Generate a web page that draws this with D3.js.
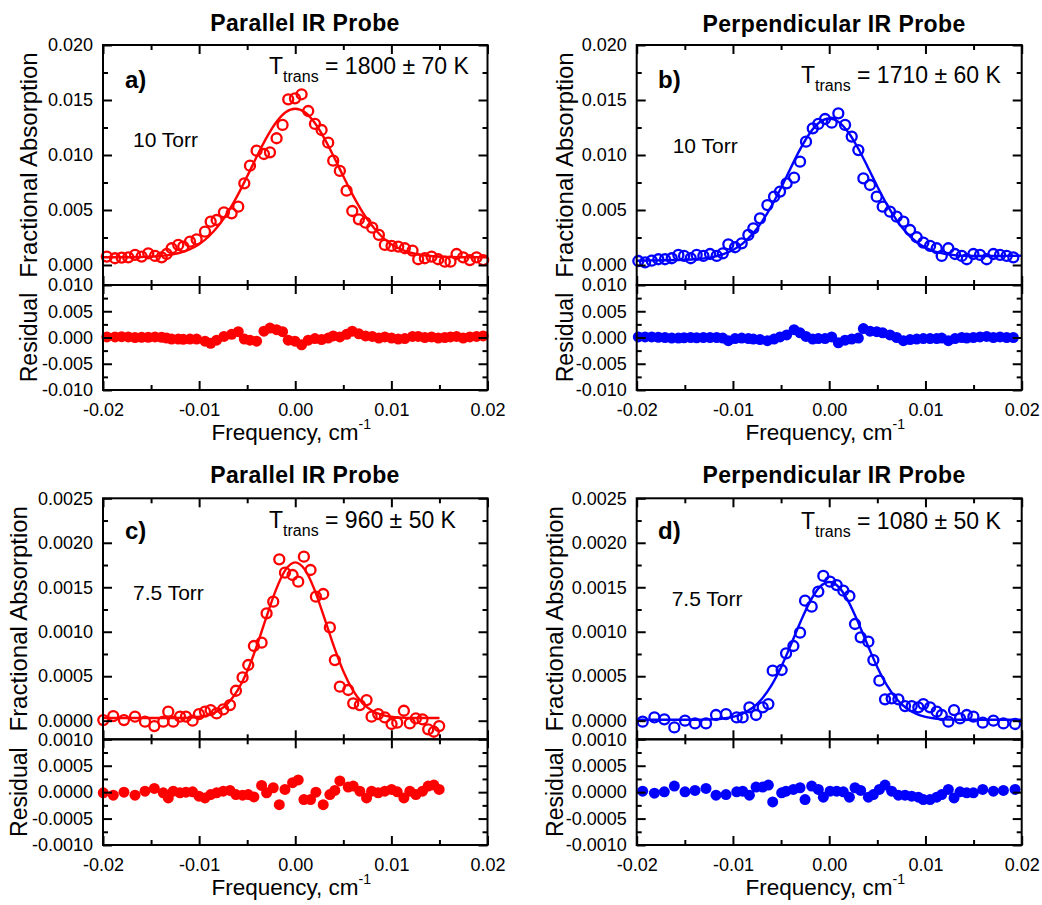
<!DOCTYPE html>
<html>
<head>
<meta charset="utf-8">
<script src="https://cdn.jsdelivr.net/npm/d3@7"></script>
<style>
  body { margin: 0; background: #fff; }
  svg { display: block; }
  text { font-family: "Liberation Sans", Arial, Helvetica, sans-serif; fill: #000; }
</style>
</head>
<body>
<svg id="chart" width="1042" height="905"></svg>
<script>
// ---------- Measured spectra (frequency offset in cm^-1, fractional absorption) ----------
// Panel a: 10 Torr, parallel probe
const freqA = [-0.0196,-0.01875,-0.01806,-0.01737,-0.01667,-0.01598,-0.01529,-0.01459,-0.0139,-0.01338,
  -0.01286,-0.01217,-0.01165,-0.01095,-0.01026,-0.00939,-0.0088,-0.00818,-0.00742,-0.00662,
  -0.00593,-0.0053,-0.00471,-0.00402,-0.00326,-0.00263,-0.00194,-0.00132,-0.00073,-0.00003,
  0.00066,0.00135,0.00205,0.00274,0.00343,0.00395,0.00464,0.00534,0.00593,0.00662,
  0.00731,0.00801,0.0087,0.00932,0.01002,0.01071,0.0114,0.0122,0.01279,0.01348,
  0.01418,0.01487,0.01556,0.01615,0.01678,0.01747,0.01816,0.01886,0.01955];
const absA = [0.00076,0.00061,0.00067,0.00070,0.00091,0.00076,0.00106,0.00082,0.00070,0.00100,
  0.00152,0.00182,0.00167,0.00212,0.00233,0.00303,0.00394,0.00409,0.00479,0.00470,
  0.00530,0.00742,0.00903,0.01039,0.01009,0.01024,0.01152,0.01273,0.01506,0.01515,
  0.01552,0.01400,0.01282,0.01227,0.01112,0.00948,0.00855,0.00676,0.00491,0.00415,
  0.00385,0.00339,0.00273,0.00182,0.00173,0.00167,0.00152,0.00130,0.00052,0.00061,
  0.00076,0.00052,0.00030,0.00030,0.00100,0.00070,0.00045,0.00070,0.00045];
const residA = [0.0001,0.0001,0.00015,0.0001,0.0,0.00005,0.00005,0.0001,0.00005,-0.0001,
  -0.0003,-0.0003,-0.00035,-0.0003,-0.0003,-0.0007,-0.0011,-0.0005,0.0002,0.0006,
  0.0011,-0.0003,-0.0005,-0.0007,0.0012,0.0018,0.0015,0.0011,-0.0005,-0.0007,
  -0.0014,-0.0005,-0.0002,-0.0004,-0.0001,0.0003,0.0001,0.0006,0.0012,0.0007,
  0.0003,0.0002,-0.0001,0.0001,-0.0001,-0.0003,-0.0002,0.0002,0.0002,0.0,
  0.0001,-0.0001,0.0,0.0001,0.0002,-0.0001,0.0001,0.0002,0.0003];

// Panel b: 10 Torr, perpendicular probe
const freqB = [-0.01983,-0.01913,-0.01844,-0.01775,-0.01706,-0.01636,-0.01567,-0.01508,-0.01439,-0.01377,
  -0.01307,-0.01238,-0.01169,-0.01106,-0.01048,-0.00978,-0.00909,-0.0084,-0.00788,-0.00719,
  -0.00642,-0.00573,-0.00511,-0.00442,-0.00365,-0.00303,-0.00241,-0.00171,-0.00113,-0.00043,
  0.00026,0.00095,0.00165,0.00234,0.00303,0.00355,0.00424,0.00494,0.00556,0.00632,
  0.00701,0.00771,0.0084,0.00909,0.00978,0.01048,0.01117,0.01169,0.01238,0.01307,
  0.01377,0.01429,0.01498,0.01567,0.01636,0.01706,0.01775,0.01844,0.01913];
const absB = [0.00036,0.00024,0.00039,0.00052,0.00052,0.00061,0.00091,0.00082,0.00061,0.00091,
  0.00082,0.00100,0.00082,0.00106,0.00188,0.00161,0.00197,0.00273,0.00333,0.00424,
  0.00545,0.00621,0.00667,0.00742,0.00794,0.00939,0.01121,0.01242,0.01282,0.01327,
  0.01294,0.01379,0.01273,0.01167,0.01045,0.00788,0.00727,0.00621,0.00530,0.00485,
  0.00439,0.00394,0.00318,0.00252,0.00203,0.00173,0.00152,0.00082,0.00152,0.00100,
  0.00082,0.00052,0.00100,0.00091,0.00052,0.00100,0.00091,0.00082,0.00070];
const residB = [0.0001,0.0001,0.0001,0.00005,0.0,-0.0001,-0.0001,-0.00005,0.0,-0.00005,
  0.0,0.0,0.0,-0.0001,-0.0006,-0.0002,-0.0001,-0.0002,-0.0003,-0.0004,
  -0.0006,-0.0003,0.0001,0.0005,0.0015,0.0009,0.0002,-0.0003,-0.0002,-0.0002,
  0.0001,-0.0010,-0.0005,-0.0003,-0.0001,0.0017,0.0012,0.0011,0.0009,0.0005,
  0.0,-0.0006,-0.0004,-0.0003,-0.0002,-0.0002,-0.0002,-0.0001,-0.0006,-0.0002,
  0.0,-0.0001,0.0,0.0001,0.0002,0.0,0.0001,0.0,0.0];

// Panel c: 7.5 Torr, parallel probe
const freqC = [-0.01997,-0.01893,-0.01782,-0.01667,-0.01563,-0.01466,-0.01373,-0.01321,-0.01269,-0.01199,
  -0.01137,-0.01068,-0.01002,-0.00939,-0.0088,-0.00818,-0.00749,-0.00679,-0.00617,-0.00548,
  -0.00489,-0.0043,-0.0035,-0.00298,-0.00229,-0.00166,-0.00107,-0.00028,0.00031,0.0009,
  0.00159,0.00215,0.00291,0.0036,0.00412,0.00464,0.00551,0.00603,0.00672,0.00742,
  0.00794,0.00863,0.00932,0.01002,0.01061,0.0113,0.01192,0.01255,0.01324,0.01383,
  0.01442,0.01497];
const absC = [0.000007,0.000052,0.000007,0.000045,-0.000011,-0.000060,-0.000011,0.000101,-0.000011,0.000045,
  0.000045,0.0,0.000075,0.000101,0.000120,0.000082,0.000127,0.000176,0.000337,0.000487,
  0.000626,0.000840,0.000877,0.001207,0.001338,0.001814,0.001664,0.001638,0.001563,0.001844,
  0.001694,0.001394,0.001424,0.001049,0.000682,0.000382,0.000345,0.000195,0.000176,0.000232,
  0.000045,0.000075,0.000037,-0.000037,-0.000022,0.000112,-0.000030,0.000026,0.000015,-0.000097,
  -0.000124,-0.000060];
const residC = [-0.000013,-0.000058,0.0,-0.000058,0.000019,0.000071,-0.000013,-0.000109,0.000019,-0.000013,
  0.0,0.000006,-0.000077,-0.000109,-0.000045,-0.000013,0.000019,0.000032,-0.000045,-0.000058,
  -0.000045,-0.000090,0.000128,-0.000013,0.000083,-0.000237,0.000051,0.000179,0.000231,-0.000141,
  -0.000141,0.0,-0.000237,-0.000045,0.000032,0.000212,0.000096,0.000115,0.000019,-0.000109,
  0.000019,-0.000013,0.000019,0.000051,0.000006,-0.000109,0.000019,-0.000045,0.000019,0.000115,
  0.000135,0.000051];

// Panel d: 7.5 Torr, perpendicular probe
const freqD = [-0.01938,-0.01816,-0.01713,-0.01609,-0.01498,-0.01394,-0.0128,-0.01176,-0.01072,-0.00961,
  -0.00899,-0.00829,-0.0076,-0.00691,-0.00632,-0.00587,-0.00494,-0.00448,-0.00372,-0.00303,
  -0.00251,-0.00182,-0.00113,-0.00061,0.00009,0.00078,0.00147,0.0021,0.00268,0.00327,
  0.00407,0.00459,0.00521,0.0058,0.00649,0.00719,0.00788,0.00857,0.00926,0.00978,
  0.01048,0.01117,0.01169,0.01238,0.01297,0.01359,0.01429,0.01498,0.01595,0.01706,
  0.0181,0.01931];
const absD = [-0.000011,0.000037,0.000015,-0.000075,0.0,-0.000030,-0.000030,0.000064,0.000075,0.000037,
  0.000037,0.000150,0.000064,0.000150,0.000187,0.000562,0.000570,0.000757,0.000840,0.000990,
  0.001349,0.001282,0.001451,0.001627,0.001563,0.001525,0.001462,0.001402,0.001087,0.000937,
  0.000888,0.000682,0.000450,0.000240,0.000251,0.000240,0.000165,0.000165,0.000150,0.000187,
  0.000150,0.000101,0.000064,-0.000011,0.000120,0.000026,0.000064,0.000045,-0.000022,0.0,
  -0.000030,-0.000037];
const residD = [0.000019,-0.000019,0.000006,0.000115,0.000006,0.000032,0.000071,-0.000058,-0.000045,0.000006,
  0.000019,-0.000058,0.000096,0.000096,0.000135,-0.000186,-0.000013,0.000019,0.000051,0.000083,
  -0.000141,0.000115,0.000051,-0.000096,0.000019,0.000019,0.000006,-0.000096,0.000083,0.000032,
  -0.000096,-0.000045,0.000051,0.000135,0.000019,-0.000058,-0.000058,-0.000077,-0.000096,-0.000141,
  -0.000141,-0.000096,-0.000045,0.000051,-0.000109,0.000006,-0.000013,-0.000013,0.000051,0.000019,
  0.000032,0.000051];

// ---------- Fitted line shapes, sampled along frequency ----------
const fitFreq = [-0.020,-0.018,-0.016,-0.014,-0.013,-0.012,-0.011,-0.010,-0.009,-0.008,-0.007,-0.006,
  -0.005,-0.004,-0.003,-0.002,-0.001,0.0,0.001,0.002,0.003,0.004,0.005,0.006,0.007,0.008,0.009,
  0.010,0.011,0.012,0.013,0.014,0.016,0.018,0.020];
const fitA = [0.00070,0.00070,0.00073,0.00082,0.00092,0.00111,0.00142,0.00189,0.00259,0.00356,0.00481,0.00633,
  0.00806,0.00986,0.01155,0.01295,0.01388,0.01420,0.01388,0.01295,0.01155,0.00986,0.00806,0.00633,0.00481,0.00356,0.00259,
  0.00189,0.00142,0.00111,0.00092,0.00082,0.00073,0.00070,0.00070];
const fitB = [0.00039,0.00042,0.00045,0.00052,0.00060,0.00074,0.00098,0.00136,0.00194,0.00278,0.00392,0.00535,
  0.00702,0.00882,0.01055,0.01200,0.01297,0.01332,0.01299,0.01204,0.01061,0.00891,0.00714,0.00549,0.00408,0.00296,0.00214,
  0.00158,0.00122,0.00102,0.00090,0.00084,0.00081,0.00082,0.00085];
const fitFreqC = [-0.020,-0.018,-0.016,-0.014,-0.013,-0.012,-0.011,-0.010,-0.009,-0.008,-0.007,-0.006,
  -0.005,-0.004,-0.003,-0.002,-0.001,0.0,0.001,0.002,0.003,0.004,0.005,0.006,0.007,0.008,0.009,
  0.010,0.011,0.012,0.013,0.014,0.015];
const fitC = [0.000030,0.000030,0.000030,0.000030,0.000030,0.000031,0.000035,0.000044,0.000066,0.000111,0.000196,0.000340,
  0.000556,0.000841,0.001165,0.001474,0.001698,0.001780,0.001698,0.001474,0.001165,0.000841,0.000556,0.000340,0.000196,0.000111,0.000066,
  0.000044,0.000035,0.000031,0.000030,0.000030,0.000030];
const fitD = [0.000010,0.000010,0.000010,0.000010,0.000012,0.000016,0.000025,0.000043,0.000079,0.000142,0.000245,0.000398,
  0.000602,0.000848,0.001107,0.001339,0.001502,0.001560,0.001502,0.001339,0.001107,0.000848,0.000602,0.000398,0.000245,0.000142,0.000079,
  0.000043,0.000025,0.000016,0.000012,0.000010,0.000010,0.000010,0.000010];

// ---------- Axis tick values ----------
const xMajor = [-0.02, -0.01, 0.0, 0.01, 0.02];
const xMinor = [-0.015, -0.005, 0.005, 0.015];
const yMajorHigh = [0.0, 0.005, 0.010, 0.015, 0.020];
const yMinorHigh = [0.0025, 0.0075, 0.0125, 0.0175];
const rMajorHigh = [-0.010, -0.005, 0.0, 0.005, 0.010];
const rMinorHigh = [-0.0075, -0.0025, 0.0025, 0.0075];
const yMajorLow = [0.0, 0.0005, 0.0010, 0.0015, 0.0020, 0.0025];
const yMinorLow = [0.00025, 0.00075, 0.00125, 0.00175, 0.00225];
const rMajorLow = [-0.0010, -0.0005, 0.0, 0.0005, 0.0010];
const rMinorLow = [-0.00075, -0.00025, 0.00025, 0.00075];

// ---------- Panel text ----------
const titles = ["Parallel IR Probe", "Perpendicular IR Probe", "Parallel IR Probe", "Perpendicular IR Probe"];
const letters = ["a)", "b)", "c)", "d)"];
const tempText = ["= 1800 \u00b1 70 K", "= 1710 \u00b1 60 K", "= 960 \u00b1 50 K", "= 1080 \u00b1 50 K"];
const pressures = ["10 Torr", "10 Torr", "7.5 Torr", "7.5 Torr"];

const RED = "#ff0000", BLUE = "#0000ff";

const panels = [
  { freq: freqA, abs: absA, resid: residA, fx: fitFreq, fy: fitA, color: RED,
    x0: 103, x1: 487.5, top: 45, mid: 285, bottom: 390, yDom: [-0.00182, 0.020], rDom: [-0.010, 0.010],
    yMaj: yMajorHigh, yMin: yMinorHigh, rMaj: rMajorHigh, rMin: rMinorHigh, fmt: ".3f",
    titleX: 305, titleY: 31, letterX: 125, letterY: 88, tX: 269, tY: 74, pX: 133, pY: 147, labelX: 37 },
  { freq: freqB, abs: absB, resid: residB, fx: fitFreq, fy: fitB, color: BLUE,
    x0: 636.7, x1: 1021.7, top: 45, mid: 285, bottom: 390, yDom: [-0.00182, 0.020], rDom: [-0.010, 0.010],
    yMaj: yMajorHigh, yMin: yMinorHigh, rMaj: rMajorHigh, rMin: rMinorHigh, fmt: ".3f",
    titleX: 834, titleY: 32, letterX: 658, letterY: 88, tX: 801, tY: 83, pX: 672.7, pY: 153, labelX: 573 },
  { freq: freqC, abs: absC, resid: residC, fx: fitFreqC, fy: fitC, color: RED,
    x0: 103, x1: 487.5, top: 498.3, mid: 739.3, bottom: 845, yDom: [-0.000209, 0.0025], rDom: [-0.0010, 0.0010],
    yMaj: yMajorLow, yMin: yMinorLow, rMaj: rMajorLow, rMin: rMinorLow, fmt: ".4f",
    titleX: 305, titleY: 483, letterX: 125, letterY: 539, tX: 269, tY: 528, pX: 133, pY: 600, labelX: 27 },
  { freq: freqD, abs: absD, resid: residD, fx: fitFreq, fy: fitD, color: BLUE,
    x0: 636.7, x1: 1021.7, top: 498.3, mid: 739.3, bottom: 845, yDom: [-0.000209, 0.0025], rDom: [-0.0010, 0.0010],
    yMaj: yMajorLow, yMin: yMinorLow, rMaj: rMajorLow, rMin: rMinorLow, fmt: ".4f",
    titleX: 834, titleY: 483, letterX: 658, letterY: 539, tX: 801, tY: 529, pX: 671.7, pY: 605.7, labelX: 563 }
];

const svg = d3.select("#chart");
const FONT = '"Liberation Sans", Arial, Helvetica, sans-serif';
const MAJ = 9, MIN = 5;

// format with an ASCII hyphen as minus sign
function fmt(spec) {
  const f = d3.format(spec);
  return v => f(v).replace("\u2212", "-");
}

function styleAxis(g, size) {
  g.attr("font-size", size).attr("font-family", FONT);
  g.select(".domain").remove();
  g.selectAll(".tick line").attr("stroke", "#000").attr("stroke-width", 2);
  g.selectAll(".tick text").attr("fill", "#000");
}

// inward ticks on all four sides of a box
function boxTicks(g, x, y, x0, x1, yTop, yBot, xMaj, xMin, yMaj, yMin, yFmt, xLabels) {
  const addAxis = (axis, tx, ty) => {
    const a = g.append("g").attr("transform", `translate(${tx},${ty})`).call(axis);
    styleAxis(a, 18);
    return a;
  };
  // left
  addAxis(d3.axisLeft(y).tickValues(yMaj).tickSize(-MAJ).tickPadding(10).tickFormat(fmt(yFmt)), x0, 0);
  addAxis(d3.axisLeft(y).tickValues(yMin).tickSize(-MIN).tickFormat(""), x0, 0);
  // right
  addAxis(d3.axisRight(y).tickValues(yMaj).tickSize(-MAJ).tickFormat(""), x1, 0);
  addAxis(d3.axisRight(y).tickValues(yMin).tickSize(-MIN).tickFormat(""), x1, 0);
  // top
  addAxis(d3.axisTop(x).tickValues(xMaj).tickSize(-MAJ).tickFormat(""), 0, yTop);
  addAxis(d3.axisTop(x).tickValues(xMin).tickSize(-MIN).tickFormat(""), 0, yTop);
  // bottom
  addAxis(d3.axisBottom(x).tickValues(xMaj).tickSize(-MAJ).tickPadding(13)
    .tickFormat(xLabels ? fmt(".2f") : ""), 0, yBot);
  addAxis(d3.axisBottom(x).tickValues(xMin).tickSize(-MIN).tickFormat(""), 0, yBot);
}

panels.forEach((p, i) => {
  const g = svg.append("g");
  const x = d3.scaleLinear().domain([-0.02, 0.02]).range([p.x0, p.x1]);
  const y = d3.scaleLinear().domain(p.yDom).range([p.mid, p.top]);
  const r = d3.scaleLinear().domain(p.rDom).range([p.bottom, p.mid]);

  // fitted profile
  const line = d3.line().x(d => x(d[0])).y(d => y(d[1])).curve(d3.curveMonotoneX);
  g.append("path")
    .datum(d3.zip(p.fx, p.fy))
    .attr("d", line)
    .attr("fill", "none")
    .attr("stroke", p.color)
    .attr("stroke-width", 2.4);

  // measured absorption: open circles
  g.append("g").selectAll("circle")
    .data(d3.zip(p.freq, p.abs))
    .join("circle")
    .attr("cx", d => x(d[0]))
    .attr("cy", d => y(d[1]))
    .attr("r", 5)
    .attr("fill", "none")
    .attr("stroke", p.color)
    .attr("stroke-width", 2.3);

  // residuals: filled circles
  g.append("g").selectAll("circle")
    .data(d3.zip(p.freq, p.resid))
    .join("circle")
    .attr("cx", d => x(d[0]))
    .attr("cy", d => r(d[1]))
    .attr("r", 5.5)
    .attr("fill", p.color);

  // frames
  g.append("rect").attr("x", p.x0).attr("y", p.top).attr("width", p.x1 - p.x0).attr("height", p.mid - p.top)
    .attr("fill", "none").attr("stroke", "#000").attr("stroke-width", 2);
  g.append("rect").attr("x", p.x0).attr("y", p.mid).attr("width", p.x1 - p.x0).attr("height", p.bottom - p.mid)
    .attr("fill", "none").attr("stroke", "#000").attr("stroke-width", 2);

  boxTicks(g, x, y, p.x0, p.x1, p.top, p.mid, xMajor, xMinor, p.yMaj, p.yMin, p.fmt, false);
  boxTicks(g, x, r, p.x0, p.x1, p.mid, p.bottom, xMajor, xMinor, p.rMaj, p.rMin, p.fmt, true);

  // title
  g.append("text").attr("x", p.titleX).attr("y", p.titleY)
    .attr("text-anchor", "middle").attr("font-size", 23).attr("font-weight", "bold")
    .attr("letter-spacing", 0.4).text(titles[i]);

  // panel letter
  g.append("text").attr("x", p.letterX).attr("y", p.letterY)
    .attr("font-size", 24).attr("font-weight", "bold").text(letters[i]);

  // translational temperature
  const t = g.append("text").attr("x", p.tX).attr("y", p.tY).attr("font-size", 23)
    .style("white-space", "pre");
  t.append("tspan").text("T");
  t.append("tspan").attr("font-size", 16).attr("dy", 8).text("trans");
  t.append("tspan").attr("dy", -8).text(" " + tempText[i]);

  // pressure
  g.append("text").attr("x", p.pX).attr("y", p.pY).attr("font-size", 21).text(pressures[i]);

  // axis titles
  g.append("text")
    .attr("transform", `translate(${p.labelX},${(p.top + p.mid) / 2}) rotate(-90)`)
    .attr("text-anchor", "middle").attr("font-size", 24).text("Fractional Absorption");
  g.append("text")
    .attr("transform", `translate(${p.labelX},${(p.mid + p.bottom) / 2}) rotate(-90)`)
    .attr("text-anchor", "middle").attr("font-size", 23).text("Residual");

  const xl = g.append("text").attr("x", (p.x0 + p.x1) / 2 - 4).attr("y", p.bottom + 50)
    .attr("text-anchor", "middle").attr("font-size", 22.5).style("white-space", "pre");
  xl.append("tspan").text("Frequency, cm");
  xl.append("tspan").attr("font-size", 14).attr("dy", -11).text("-1");
});
</script>
</body>
</html>
